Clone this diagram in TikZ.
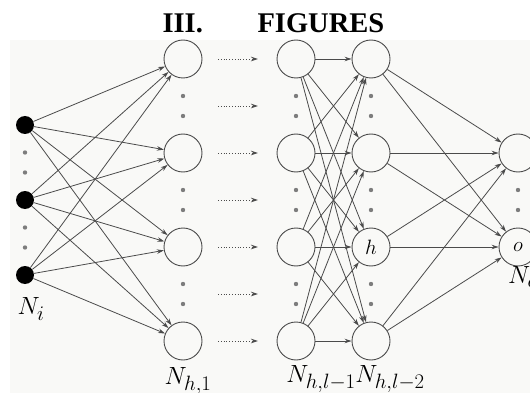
\documentclass[tikz,border=0pt]{standalone}
\usepackage{fontspec}
\newfontfamily\headfont{Liberation Serif}
\usepackage{amsmath}
\usetikzlibrary{arrows.meta}
\definecolor{netgray}{RGB}{75,75,75}
\definecolor{dotgray}{RGB}{125,125,125}
\definecolor{paper}{RGB}{249,249,247}

\begin{document}
\begin{tikzpicture}[x=1pt,y=-1pt,
    neuron/.style={circle,draw=netgray,line width=0.9pt,minimum size=38pt,
      inner sep=0pt,font=\huge},
    inneuron/.style={circle,fill=black,minimum size=18pt,inner sep=0pt},
    link/.style={netgray,line width=0.8pt,-{Stealth[length=7pt,width=4.5pt]}},
    skip/.style={netgray,dotted,line width=0.8pt,-{Stealth[length=7pt,width=4.5pt]}},
    lab/.style={font=\Huge,inner sep=0pt}]
    \useasboundingbox (0,0) rectangle (530,393);
    \clip (0,0) rectangle (530,393);
    \fill[paper] (10,40) rectangle (530,393);
    % heading
    \node[anchor=base west,font=\headfont\bfseries\fontsize{28.5}{30}\selectfont]
      (sec) at (159,33) {III.};
    \node[anchor=base west,font=\headfont\bfseries\fontsize{28.5}{30}\selectfont]
      (ttl) at (254,33) {FIGURES};
    % layers
    \foreach \k/\y in {1/125, 2/200, 3/275}{
      \node[inneuron] (i-\k) at (25,\y) {};}
    \foreach \k/\t in {1/, 2/, 3/$h$, 4/}{
      \pgfmathsetmacro\y{59+94*(\k-1)}
      \node[neuron] (a-\k) at (183,\y) {};
      \node[neuron] (b-\k) at (296,\y) {};
      \node[neuron] (c-\k) at (371,\y) {\t};}
    \node[neuron] (o-1) at (518,153) {};
    \node[neuron] (o-2) at (518,247) {$o$};
    % dots between neurons
    \foreach \x in {183, 296, 371}{
      \foreach \g in {0,1,2}{
        \fill[dotgray] (\x,96+94*\g) circle (2.2);
        \fill[dotgray] (\x,116+94*\g) circle (2.2);}}
    \foreach \y in {152.5, 172.5, 227.5, 247.5}{
      \fill[dotgray] (25,\y) circle (2.2);}
    \fill[dotgray] (518,190) circle (2.2);
    \fill[dotgray] (518,210) circle (2.2);
    % connections
    \foreach \i in {1,2,3}{
      \foreach \j in {1,...,4}{
        \draw[link] (i-\i) -- (a-\j);}}
    \foreach \i in {1,...,4}{
      \foreach \j in {1,...,4}{
        \draw[link] (b-\i) -- (c-\j);}}
    \foreach \i in {1,...,4}{
      \foreach \j in {1,2}{
        \draw[link] (c-\i) -- (o-\j);}}
    \foreach \r in {0,...,6}{
      \coordinate (s-\r) at (218,59+47*\r);
      \coordinate (t-\r) at (258,59+47*\r);
      \draw[skip] (s-\r) -- (t-\r);}
    % labels
    \node[lab] (ni) at (31,309) {$N_i$};
    \node[lab] (nh1) at (188,381) {$N_{h,1}$};
    \node[lab] (nhl1) at (321,379) {$N_{h,l-1}$};
    \node[lab] (nhl2) at (390,379) {$N_{h,l-2}$};
    \node[lab,anchor=west] (no) at (508,277) {$N_o$};
  \end{tikzpicture}
\end{document}
